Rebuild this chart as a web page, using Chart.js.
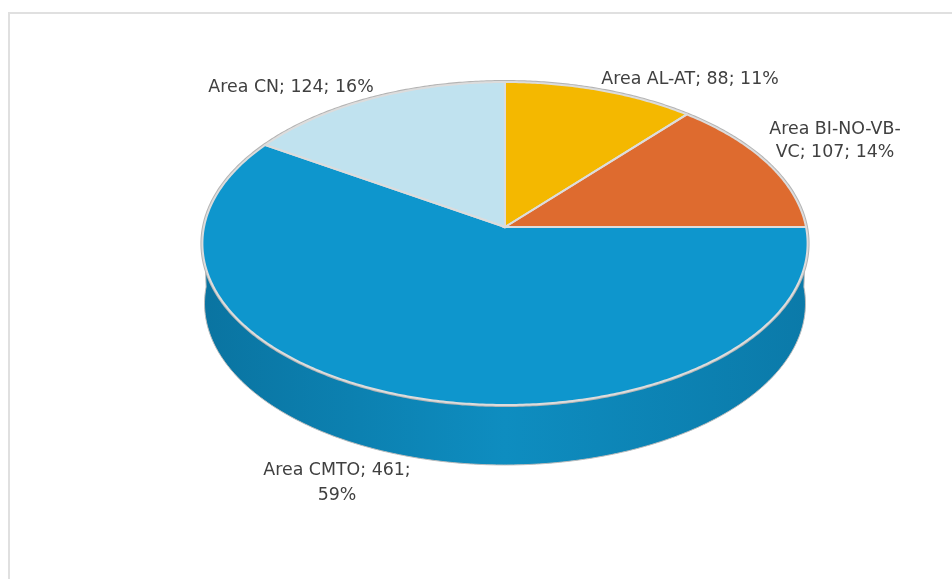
<!DOCTYPE html>
<html>
<head>
<meta charset="utf-8">
<style>
  html, body { margin: 0; padding: 0; background: #fff; }
  #wrap { position: relative; width: 952px; height: 579px; }
</style>
<script src="https://cdn.jsdelivr.net/npm/chart.js@4"></script>
</head>
<body>
<div id="wrap"><canvas id="pie3d" width="952" height="579"></canvas></div>
<script>
const categories = ['Area AL-AT', 'Area BI-NO-VB-VC', 'Area CMTO', 'Area CN'];
const values = [88, 107, 461, 124];
const percents = [11, 14, 59, 16];
const colors = ['#f4b800', '#de6b2f', '#0e96cd', '#c0e2ef'];

// ラベルの折り返しと位置 (中央x, 各行のy)
const labelLayout = [
    { x: 690, y: [79], split: null },
    { x: 835, y: [129, 152], split: 'Area BI-NO-VB-' },
    { x: 337, y: [470, 495], split: 'Area CMTO; 461;' },
    { x: 291, y: [87], split: null }
];

/* =====================
   疑似3D: 円の角度を透視投影で楕円に変換
===================== */
const CX = 505, CY = 227, RX = 301, RY = 159.8, PERSP = 0.1022, DEPTH = 60;

function project(angle) {
    const u = Math.cos(angle), v = Math.sin(angle);
    const w = 1 - PERSP * v;
    return { x: CX + RX * u / w, y: CY + RY * v / w };
}

function projectLow(angle) {
    const p = project(angle);
    return { x: CX + (p.x - CX) * 0.993, y: p.y + DEPTH };
}

function tracePoints(ctx, fn, from, to, moveFirst) {
    const steps = Math.max(2, Math.ceil(Math.abs(to - from) / 0.01));
    for (let i = 0; i <= steps; i++) {
        const p = fn(from + (to - from) * i / steps);
        if (i === 0 && moveFirst) ctx.moveTo(p.x, p.y);
        else ctx.lineTo(p.x, p.y);
    }
}

const pie3dPlugin = {
    id: 'pie3d',
    beforeDatasetDraw(chart, args) {
        const ctx = chart.ctx;
        const arcs = chart.getDatasetMeta(args.index).data;
        ctx.save();

        // 側面 (手前半分のみ)
        arcs.forEach((arc) => {
            const from = Math.max(arc.startAngle, 0);
            const to = Math.min(arc.endAngle, Math.PI);
            if (to <= from) return;
            const grad = ctx.createLinearGradient(CX - RX, 0, CX + RX, 0);
            grad.addColorStop(0, '#0a74a1');
            grad.addColorStop(0.5, '#0e8dc0');
            grad.addColorStop(1, '#0b7aa9');
            ctx.beginPath();
            tracePoints(ctx, project, from, to, true);
            tracePoints(ctx, projectLow, to, from, false);
            ctx.closePath();
            ctx.fillStyle = grad;
            ctx.fill();
            ctx.strokeStyle = '#bdbdbd';
            ctx.lineWidth = 1;
            ctx.stroke();
        });

        // 上面の外周 (灰色の縁)
        ctx.beginPath();
        tracePoints(ctx, project, 0, Math.PI * 2, true);
        ctx.closePath();
        ctx.strokeStyle = '#b4b4b4';
        ctx.lineWidth = 4;
        ctx.stroke();

        // 上面の扇形
        arcs.forEach((arc, i) => {
            ctx.beginPath();
            ctx.moveTo(CX, CY);
            tracePoints(ctx, project, arc.startAngle, arc.endAngle, false);
            ctx.closePath();
            ctx.fillStyle = colors[i];
            ctx.fill();
        });

        // 扇形の境界線
        arcs.forEach((arc) => {
            ctx.beginPath();
            ctx.moveTo(CX, CY);
            tracePoints(ctx, project, arc.startAngle, arc.endAngle, false);
            ctx.closePath();
            ctx.strokeStyle = '#dcdcdc';
            ctx.lineWidth = 2;
            ctx.stroke();
        });

        ctx.restore();
        return false; // 標準の円弧は描かない
    },
    afterDatasetsDraw(chart) {
        const ctx = chart.ctx;
        ctx.save();
        ctx.font = '17.4px "DejaVu Sans"';
        ctx.fillStyle = '#404040';
        ctx.textAlign = 'center';
        ctx.textBaseline = 'middle';
        categories.forEach((cat, i) => {
            const text = `${cat}; ${values[i]}; ${percents[i]}%`;
            const lay = labelLayout[i];
            const lines = lay.split ? [lay.split, text.slice(lay.split.length).trim()] : [text];
            lines.forEach((line, j) => ctx.fillText(line, lay.x, lay.y[j]));
        });
        ctx.restore();
    }
};

/* =====================
   枠線 (上と左のみ)
===================== */
const framePlugin = {
    id: 'frame',
    beforeDraw(chart) {
        const ctx = chart.ctx;
        ctx.save();
        ctx.strokeStyle = '#e0e0e0';
        ctx.lineWidth = 2;
        ctx.beginPath();
        ctx.moveTo(9, 579);
        ctx.lineTo(9, 13);
        ctx.lineTo(952, 13);
        ctx.stroke();
        ctx.restore();
    }
};

new Chart(document.getElementById('pie3d'), {
    type: 'pie',
    data: {
        labels: categories,
        datasets: [{ data: values, backgroundColor: colors }]
    },
    plugins: [framePlugin, pie3dPlugin],
    options: {
        responsive: false,
        animation: false,
        plugins: { legend: { display: false }, tooltip: { enabled: false } }
    }
});
</script>
</body>
</html>
